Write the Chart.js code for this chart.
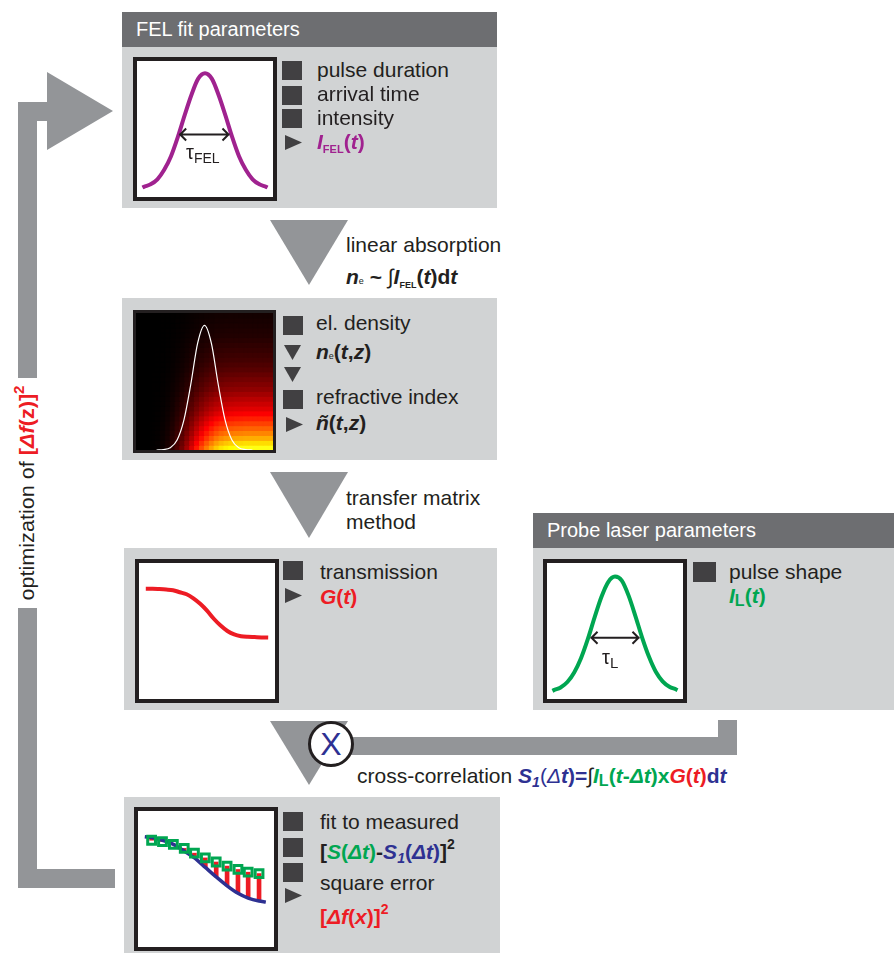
<!DOCTYPE html>
<html>
<head>
<meta charset="utf-8">
<script src="https://cdn.jsdelivr.net/npm/chart.js@4.4.1/dist/chart.umd.min.js"></script>
<style>
body{margin:0;background:#fff;font-family:"Liberation Sans",Arial,Helvetica,sans-serif;color:#231f20}
#page{position:relative;width:894px;height:953px;overflow:hidden}
.panel{position:absolute;background:#d1d3d4}
.hdr{position:absolute;background:#6d6e71;color:#fff;font-size:20px;line-height:35px;height:35px;box-sizing:border-box;white-space:nowrap}
.frame{position:absolute;box-sizing:border-box;border:4px solid #231f20;background:#fff}
.frame canvas{display:block}
.sq{position:absolute;background:#414042;width:20px;height:19px}
.tr{position:absolute;background:#414042;width:17px;height:15px;clip-path:polygon(0 0,100% 50%,0 100%)}
.td{position:absolute;background:#414042;width:17px;height:15px;clip-path:polygon(0 0,100% 0,50% 100%)}
.g{position:absolute;background:#939598}
.t{position:absolute;font-size:21px;line-height:22px;white-space:nowrap}
.b{font-weight:bold}
.sub{font-size:11px;position:relative;top:4px}
.sup{font-size:14px;position:relative;top:-10px}
</style>
</head>
<body>
<div id="page">

<!-- optimisation loop -->
<div class="g" style="left:18px;top:102px;width:19px;height:276px"></div>
<div class="g" style="left:18px;top:608px;width:19px;height:280px"></div>
<div class="g" style="left:18px;top:102px;width:30px;height:19px"></div>
<div class="g" style="left:47px;top:72px;width:66px;height:78px;clip-path:polygon(0 0,100% 50%,0 100%)"></div>
<div class="g" style="left:18px;top:869px;width:97px;height:19px"></div>
<div class="t" style="font-size:20px;left:28px;top:493px;transform:translate(-50%,-50%) rotate(-90deg) scaleX(1.08)">optimization of <span class="b" style="color:#ed1c24">[<i>Δf</i>(z)]<span class="sup">2</span></span></div>

<!-- FEL fit parameters -->
<div class="hdr" style="left:122px;top:12px;width:375px;padding-left:14px">FEL fit parameters</div>
<div class="panel" style="left:122px;top:47px;width:375px;height:161px"></div>
<div class="frame" style="left:133px;top:57px;width:144px;height:144px"><canvas id="felChart" width="136" height="136"></canvas></div>
<div class="t" style="left:186px;top:141px;font-size:20px">τ<span style="font-size:14px;position:relative;top:4px">FEL</span></div>
<div class="sq" style="left:282px;top:61px"></div>
<div class="sq" style="left:282px;top:86px"></div>
<div class="sq" style="left:282px;top:109px"></div>
<div class="tr" style="left:285px;top:135px"></div>
<div class="t" style="left:317px;top:59px">pulse duration</div>
<div class="t" style="left:317px;top:83px">arrival time</div>
<div class="t" style="left:317px;top:107px">intensity</div>
<div class="t b" style="left:317px;top:131px;color:#a0228f"><i>I</i><span class="sub">FEL</span>(<i>t</i>)</div>

<!-- linear absorption -->
<div class="g" style="left:270px;top:220px;width:78px;height:65px;clip-path:polygon(0 0,100% 0,50% 100%)"></div>
<div class="t" style="left:346px;top:234px">linear absorption</div>
<div class="t b" style="left:346px;top:266px"><i>n</i><span style="font-size:9px;font-weight:normal">e</span> ~ <span style="font-weight:normal">∫</span><i>I</i><span class="sub" style="font-size:9px">FEL</span>(<i>t</i>)d<i>t</i></div>

<!-- electron density -->
<div class="panel" style="left:122px;top:298px;width:375px;height:162px"></div>
<div class="frame" style="left:133px;top:310px;width:143px;height:143px;border-width:3px;background:#000"><canvas id="densChart" width="137" height="137"></canvas></div>
<div class="sq" style="left:283px;top:316px"></div>
<div class="td" style="left:284px;top:345px"></div>
<div class="td" style="left:284px;top:367px"></div>
<div class="sq" style="left:283px;top:390px"></div>
<div class="tr" style="left:286px;top:417px"></div>
<div class="t" style="left:316px;top:312px">el. density</div>
<div class="t b" style="left:316px;top:341px"><i>n</i><span style="font-size:9px;font-weight:normal">e</span>(<i>t</i>,<i>z</i>)</div>
<div class="t" style="left:316px;top:386px">refractive index</div>
<div class="t b" style="left:316px;top:412px"><i>ñ</i>(<i>t</i>,<i>z</i>)</div>

<!-- transfer matrix -->
<div class="g" style="left:270px;top:472px;width:78px;height:66px;clip-path:polygon(0 0,100% 0,50% 100%)"></div>
<div class="t" style="left:346px;top:487px">transfer matrix</div>
<div class="t" style="left:346px;top:511px">method</div>

<!-- transmission -->
<div class="panel" style="left:124px;top:548px;width:373px;height:162px"></div>
<div class="frame" style="left:135px;top:559px;width:144px;height:144px"><canvas id="transChart" width="136" height="136"></canvas></div>
<div class="sq" style="left:283px;top:561px"></div>
<div class="tr" style="left:285px;top:588px"></div>
<div class="t" style="left:320px;top:561px">transmission</div>
<div class="t b" style="left:320px;top:586px;color:#ed1c24"><i>G</i>(<i>t</i>)</div>

<!-- probe laser -->
<div class="hdr" style="left:533px;top:513px;width:361px;padding-left:14px">Probe laser parameters</div>
<div class="panel" style="left:533px;top:548px;width:361px;height:162px"></div>
<div class="frame" style="left:543px;top:559px;width:144px;height:144px"><canvas id="probeChart" width="136" height="136"></canvas></div>
<div class="t" style="left:602px;top:646px;font-size:20px">τ<span style="font-size:15px;position:relative;top:4px">L</span></div>
<div class="sq" style="left:693px;top:562px;width:23px;height:20px"></div>
<div class="t" style="left:729px;top:561px">pulse shape</div>
<div class="t b" style="left:729px;top:585px;color:#00a651"><i>I</i><span class="sub" style="font-size:16px;top:3px">L</span>(<i>t</i>)</div>

<!-- cross-correlation -->
<div class="g" style="left:270px;top:721px;width:78px;height:64px;clip-path:polygon(0 0,100% 0,50% 100%)"></div>
<div class="g" style="left:331px;top:737px;width:406px;height:18px"></div>
<div class="g" style="left:718px;top:720px;width:19px;height:35px"></div>
<div style="position:absolute;left:308px;top:721px;width:46px;height:46px;box-sizing:border-box;border:3px solid #231f20;border-radius:50%;background:#fff;color:#2e3192;font-size:32px;line-height:40px;text-align:center">X</div>
<div class="t" style="left:357px;top:765px">cross-correlation <span style="color:#2e3192"><b><i>S<span class="sub" style="font-size:14px">1</span></i></b>(<i>Δ</i><b><i>t</i>)=</b></span><span style="color:#231f20">∫</span><span class="b" style="color:#00a651"><i>I</i><span class="sub" style="font-size:16px;top:3px">L</span>(<i>t</i>-<i>Δt</i>)x</span><span class="b" style="color:#ed1c24"><i>G</i>(<i>t</i>)</span><span class="b" style="color:#2e3192">d<i>t</i></span></div>

<!-- fit -->
<div class="panel" style="left:124px;top:797px;width:376px;height:156px"></div>
<div class="frame" style="left:134px;top:807px;width:144px;height:144px"><canvas id="fitChart" width="136" height="136"></canvas></div>
<div class="sq" style="left:283px;top:812px"></div>
<div class="sq" style="left:283px;top:838px"></div>
<div class="sq" style="left:283px;top:863px"></div>
<div class="tr" style="left:285px;top:888px"></div>
<div class="t" style="left:320px;top:811px">fit to measured</div>
<div class="t b" style="left:320px;top:841px">[<span style="color:#00a651"><i>S</i>(<i>Δt</i>)</span>-<span style="color:#2e3192"><i>S<span class="sub" style="font-size:14px">1</span></i>(<i>Δt</i>)</span>]<span class="sup">2</span></div>
<div class="t" style="left:320px;top:872px">square error</div>
<div class="t b" style="left:320px;top:906px;color:#ed1c24">[<i>Δf</i>(<i>x</i>)]<span class="sup">2</span></div>

</div>

<script>
// pulse shapes (time 0..1, intensity 0..1)
const pulseT = [0.04, 0.05, 0.10, 0.15, 0.20, 0.25, 0.30, 0.35, 0.40, 0.45, 0.50, 0.55, 0.60, 0.65, 0.70, 0.75, 0.80, 0.85, 0.90, 0.95, 0.96];
const felPulse = [0.07, 0.075, 0.093, 0.13, 0.20, 0.30, 0.44, 0.60, 0.75, 0.87, 0.91, 0.87, 0.75, 0.60, 0.44, 0.30, 0.20, 0.13, 0.093, 0.075, 0.07];
const probePulse = [0.06, 0.065, 0.085, 0.125, 0.195, 0.30, 0.44, 0.60, 0.75, 0.86, 0.90, 0.87, 0.76, 0.61, 0.45, 0.31, 0.20, 0.13, 0.09, 0.07, 0.065];
const felWidth = { from: 0.31, to: 0.68, level: 0.46 };
const probeWidth = { from: 0.32, to: 0.68, level: 0.45 };

// transmission G(t)
const transT = [0.05, 0.10, 0.15, 0.20, 0.25, 0.30, 0.35, 0.40, 0.45, 0.50, 0.55, 0.60, 0.65, 0.70, 0.75, 0.80, 0.85, 0.90, 0.95];
const transmission = [0.81, 0.81, 0.808, 0.805, 0.80, 0.785, 0.77, 0.74, 0.70, 0.65, 0.59, 0.54, 0.50, 0.475, 0.462, 0.457, 0.455, 0.453, 0.452];

// electron density map n_e(t,z): time profile x depth profile
const densT = [0.018, 0.054, 0.089, 0.125, 0.161, 0.196, 0.232, 0.268, 0.304, 0.339, 0.375, 0.411, 0.446, 0.482,
               0.518, 0.554, 0.589, 0.625, 0.661, 0.696, 0.732, 0.768, 0.804, 0.839, 0.875, 0.911, 0.946, 0.982];
const densCol = [0, 0, 0, 0.005, 0.01, 0.025, 0.05, 0.09, 0.15, 0.22, 0.31, 0.42, 0.53, 0.63,
                 0.72, 0.80, 0.87, 0.92, 0.95, 0.97, 0.985, 0.99, 1, 1, 1, 1, 1, 1];
const densRow = [0.77, 0.70, 0.63, 0.57, 0.52, 0.47, 0.42, 0.37, 0.33, 0.30, 0.27, 0.24, 0.21, 0.19,
                 0.17, 0.15, 0.13, 0.115, 0.10, 0.09, 0.08, 0.07, 0.06, 0.05, 0.045, 0.04, 0.035, 0.03];
const felTraceT = [0.15, 0.20, 0.25, 0.30, 0.35, 0.40, 0.45, 0.50, 0.55, 0.60, 0.65, 0.70, 0.75, 0.80, 0.85];
const felTrace = [0, 0.003, 0.017, 0.073, 0.22, 0.48, 0.78, 0.91, 0.78, 0.48, 0.22, 0.073, 0.017, 0.003, 0];

// fit: model S1 and measured S
const modelT = [0.05, 0.10, 0.18, 0.26, 0.34, 0.415, 0.495, 0.575, 0.655, 0.735, 0.81, 0.89, 0.94];
const model = [0.81, 0.805, 0.785, 0.755, 0.705, 0.655, 0.585, 0.515, 0.45, 0.395, 0.36, 0.338, 0.33];
const measured = [0.785, 0.775, 0.755, 0.725, 0.69, 0.655, 0.625, 0.595, 0.57, 0.55, 0.54];

const pts = (xs, ys) => xs.map((x, i) => ({x: x, y: ys[i]}));

const widthArrow = {
    id: 'widthArrow',
    afterDatasetsDraw(chart, args, opts) {
        const ctx = chart.ctx;
        const x1 = chart.scales.x.getPixelForValue(opts.from);
        const x2 = chart.scales.x.getPixelForValue(opts.to);
        const y = chart.scales.y.getPixelForValue(opts.level);
        ctx.save();
        ctx.strokeStyle = '#231f20';
        ctx.lineWidth = 2;
        ctx.beginPath();
        ctx.moveTo(x1, y); ctx.lineTo(x2, y);
        ctx.moveTo(x1 + 7, y - 6); ctx.lineTo(x1 + 1, y); ctx.lineTo(x1 + 7, y + 6);
        ctx.moveTo(x2 - 7, y - 6); ctx.lineTo(x2 - 1, y); ctx.lineTo(x2 - 7, y + 6);
        ctx.stroke();
        ctx.restore();
    }
};

function miniChart(id, datasets, arrow) {
    return new Chart(document.getElementById(id), {
        type: 'line',
        data: { datasets: datasets },
        options: {
            responsive: false,
            animation: false,
            events: [],
            layout: { padding: 0, autoPadding: false },
            plugins: {
                legend: { display: false },
                tooltip: { enabled: false },
                widthArrow: arrow || false
            },
            scales: {
                x: { type: 'linear', min: 0, max: 1, offset: false, display: false, grid: { offset: false } },
                y: { type: 'linear', min: 0, max: 1, display: false }
            }
        },
        plugins: [widthArrow]
    });
}

function hot(v) {
    const c = a => Math.round(255 * Math.max(0, Math.min(1, a)));
    return 'rgb(' + c(v / 0.375) + ',' + c((v - 0.375) / 0.375) + ',' + c((v - 0.75) / 0.25) + ')';
}

// FEL pulse
miniChart('felChart', [{
    data: pts(pulseT, felPulse),
    borderColor: '#a0228f',
    borderWidth: 4,
    pointRadius: 0,
    cubicInterpolationMode: 'monotone'
}], felWidth);

// density map
const cells = [];
densRow.forEach((r, j) => densCol.forEach((c, i) => cells.push({x: densT[i], y: densT[j], v: c * r})));
miniChart('densChart', [
    {
        data: pts(felTraceT, felTrace),
        borderColor: '#ffffff',
        borderWidth: 1.2,
        pointRadius: 0,
        cubicInterpolationMode: 'monotone',
        order: 1
    },
    {
        data: cells,
        showLine: false,
        pointStyle: 'rect',
        pointRadius: 3.6,
        pointBorderWidth: 1,
        pointBackgroundColor: ctx => hot(ctx.raw.v),
        pointBorderColor: ctx => hot(ctx.raw.v),
        order: 2
    }
]);

// transmission
miniChart('transChart', [{
    data: pts(transT, transmission),
    borderColor: '#ed1c24',
    borderWidth: 4,
    pointRadius: 0,
    cubicInterpolationMode: 'monotone'
}]);

// probe pulse
miniChart('probeChart', [{
    data: pts(pulseT, probePulse),
    borderColor: '#00a651',
    borderWidth: 4,
    pointRadius: 0,
    cubicInterpolationMode: 'monotone'
}], probeWidth);

// fit to measured
const fitT = modelT.slice(1, 12);
miniChart('fitChart', [
    {
        type: 'bar',
        data: fitT.map((x, i) => ({x: x, y: [model[i + 1], measured[i]]})),
        backgroundColor: '#ed1c24',
        barThickness: 4,
        order: 3
    },
    {
        data: pts(modelT, model),
        borderColor: '#2e3192',
        borderWidth: 3.5,
        pointRadius: 0,
        cubicInterpolationMode: 'monotone',
        order: 2
    },
    {
        data: pts(fitT, measured),
        showLine: false,
        pointStyle: 'rect',
        pointRadius: 5.5,
        pointBorderWidth: 3,
        pointBorderColor: '#00a651',
        pointBackgroundColor: 'rgba(0,0,0,0)',
        order: 1
    }
]);
</script>
</body>
</html>
